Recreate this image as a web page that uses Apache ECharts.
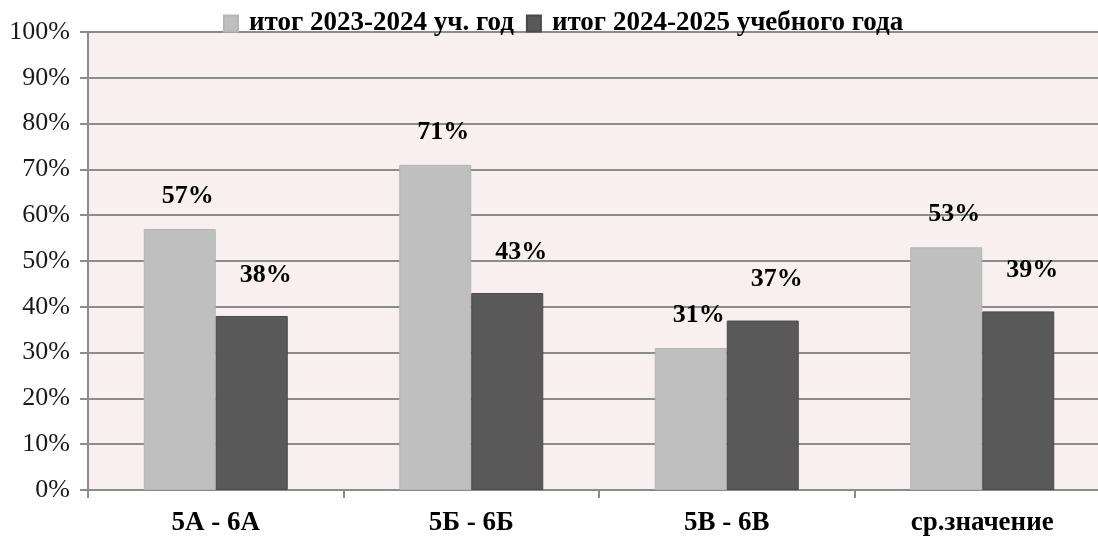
<!DOCTYPE html>
<html><head><meta charset="utf-8">
<script src="https://cdn.jsdelivr.net/npm/echarts@6/dist/echarts.min.js"></script>
<style>html,body{margin:0;padding:0;background:#fff;overflow:hidden;width:1098px;height:537px}#c{width:1110px;height:537px}</style>
</head><body><div id="c"></div>
<script>
const categories = ['5А - 6А', '5Б - 6Б', '5В - 6В', 'ср.значение'];
const seriesNames = ['итог 2023-2024 уч. год', 'итог 2024-2025 учебного года'];
const values2324 = [57, 71, 31, 53];
const values2425 = [38, 43, 37, 39];
const yTicks = [0, 10, 20, 30, 40, 50, 60, 70, 80, 90, 100];

const serif = '"Liberation Serif", "DejaVu Serif", serif';
const chart = echarts.init(document.getElementById('c'));
chart.setOption({
  animation: false,
  backgroundColor: '#ffffff',
  legend: {
    top: 5, left: 218, itemGap: 12, itemWidth: 14, itemHeight: 16,
    icon: 'rect',
    textStyle: { fontFamily: serif, fontWeight: 'bold', fontSize: 27, color: '#000', padding: [0, 0, 0, 6] },
    data: seriesNames
  },
  grid: { left: 88, right: 0, top: 32, bottom: 47, show: true, backgroundColor: '#f8eff0', borderWidth: 0 },
  xAxis: {
    type: 'category', data: categories,
    axisLine: { lineStyle: { color: '#8c8c8c', width: 2 } },
    axisTick: { show: true, length: 8, lineStyle: { color: '#8c8c8c', width: 2 } },
    axisLabel: { fontFamily: serif, fontWeight: 'bold', fontSize: 27, color: '#000', margin: 20 }
  },
  yAxis: {
    type: 'value', min: 0, max: 100, interval: 10,
    axisLine: { show: true, lineStyle: { color: '#8c8c8c', width: 2 } },
    axisTick: { show: true, length: 8, lineStyle: { color: '#8c8c8c', width: 2 } },
    splitLine: { lineStyle: { color: '#8c8c8c', width: 2 } },
    axisLabel: { fontFamily: serif, fontSize: 26, color: '#1a1a1a', margin: 18,
      formatter: v => yTicks.includes(v) ? v + '%' : '' }
  },
  series: [
    {
      name: seriesNames[0], type: 'bar', data: values2324,
      barWidth: 72, barGap: '0%',
      itemStyle: { color: '#bfbfbf', borderColor: '#b5b5b5', borderWidth: 1 },
      label: { show: true, position: 'top', offset: [8, -15], formatter: p => p.value + '%',
        fontFamily: serif, fontWeight: 'bold', fontSize: 26, color: '#000' }
    },
    {
      name: seriesNames[1], type: 'bar', data: values2425,
      barWidth: 72, barGap: '0%',
      itemStyle: { color: '#595959', borderColor: '#4a4a4a', borderWidth: 1 },
      label: { show: true, position: 'top', offset: [14, -23], formatter: p => p.value + '%',
        fontFamily: serif, fontWeight: 'bold', fontSize: 26, color: '#000' }
    }
  ]
});
</script></body></html>
